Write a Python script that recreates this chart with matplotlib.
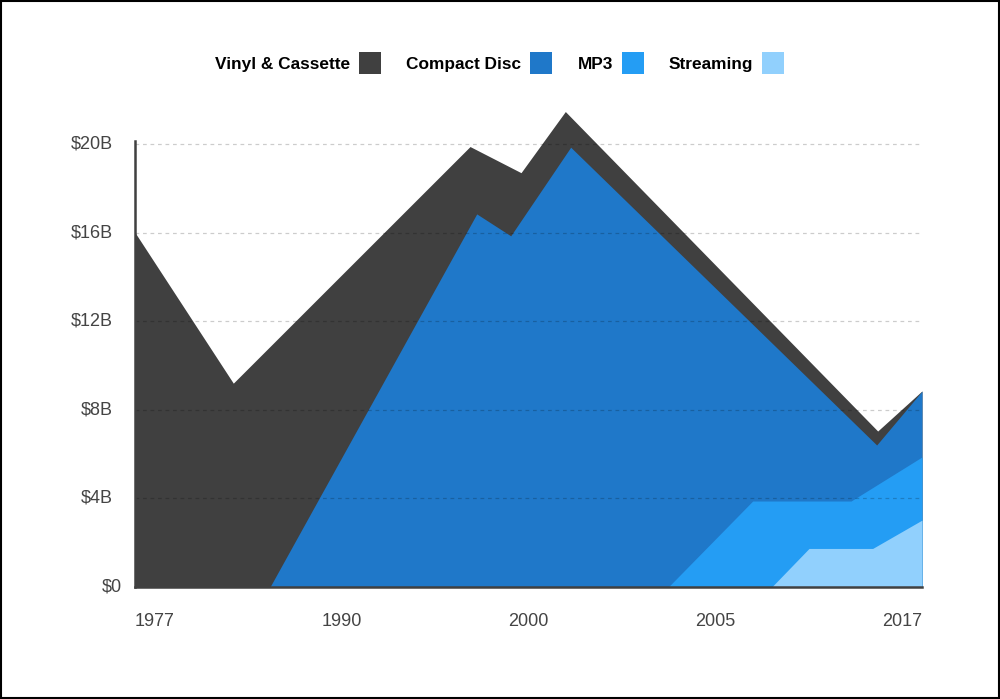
import matplotlib
matplotlib.use("Agg")
import matplotlib.pyplot as plt
from matplotlib.patches import Rectangle
import matplotlib.transforms as mtransforms

# ---------------- data ----------------
series_names = ["Vinyl & Cassette", "Compact Disc", "MP3", "Streaming"]
series_colors = ["#404040", "#1f78c9", "#249df4", "#91d0fd"]

# x positions on a 0-100 timeline scale, values in $B
vinyl_x = [0, 12.49, 42.57, 49.05, 54.68, 94.37, 100]
vinyl_y = [16.0, 9.2, 19.88, 18.70, 21.46, 7.04, 8.85]
cd_x = [17.15, 43.42, 47.74, 55.36, 94.24, 100]
cd_y = [0, 16.84, 15.85, 19.85, 6.41, 8.84]
mp3_x = [67.76, 78.48, 90.98, 100]
mp3_y = [0, 3.88, 3.88, 5.87]
stream_x = [80.90, 85.64, 93.73, 100]
stream_y = [0, 1.74, 1.74, 3.02]

x_tick_pos = [2.54, 26.27, 50.0, 73.73, 97.46]
x_tick_labels = ["1977", "1990", "2000", "2005", "2017"]
y_ticks = [0, 4, 8, 12, 16, 20]
y_tick_labels = ["$0", "$4B", "$8B", "$12B", "$16B", "$20B"]

# ---------------- figure ----------------
plt.rcParams["font.family"] = ["Liberation Sans", "DejaVu Sans"]
fig = plt.figure(figsize=(10, 6.99), dpi=100)
fig.patch.set_facecolor("white")

W, H = 1000, 699
ax_left, ax_right, ax_top, ax_bottom = 135, 922, 141, 587
ax = fig.add_axes([ax_left / W, 1 - ax_bottom / H, (ax_right - ax_left) / W, (ax_bottom - ax_top) / H])
ax.set_xlim(0, 100)
ax.set_ylim(0, 20.13)

all_series = [(vinyl_x, vinyl_y), (cd_x, cd_y), (mp3_x, mp3_y), (stream_x, stream_y)]
for i, ((xs, ys), col) in enumerate(zip(all_series, series_colors)):
    ax.fill_between(xs, 0, ys, color=col, linewidth=0, zorder=1 + i, clip_on=False)

# gridlines drawn over the areas
for v in y_ticks[1:]:
    ax.axhline(v, color="black", alpha=0.2, linewidth=0.9, linestyle=(0, (3, 3)), zorder=10)

for s in ["top", "right"]:
    ax.spines[s].set_visible(False)
ax.spines["left"].set_color("#404040")
ax.spines["left"].set_linewidth(1.8)
ax.spines["bottom"].set_color("#404040")
ax.spines["bottom"].set_linewidth(1.8)
ax.spines["left"].set_zorder(11)
ax.spines["bottom"].set_zorder(11)

ax.set_yticks([])
ax.set_xticks(x_tick_pos)
ax.set_xticklabels(x_tick_labels, fontsize=13, color="#444444")
ax.tick_params(axis="x", length=0, pad=19)

trans = mtransforms.blended_transform_factory(fig.transFigure, ax.transData)
for v, lab in zip(y_ticks, y_tick_labels):
    xr = 113 if v != 0 else 122
    ax.text(xr / W, v, lab, transform=trans, ha="right", va="center",
            fontsize=13, color="#444444")

# legend (text followed by colour square)
legend_sq_x = [359, 530, 622, 762]
sq = 22
leg_y = 63
for name, col, sx in zip(series_names, series_colors, legend_sq_x):
    fig.text((sx - 9) / W, 1 - (leg_y + 1.5) / H, name, ha="right", va="center",
             fontsize=12.4, fontweight="bold", color="black")
    fig.patches.append(Rectangle((sx / W, 1 - (leg_y + sq / 2) / H), sq / W, sq / H,
                                 transform=fig.transFigure, facecolor=col, edgecolor="none"))

# outer frame
fig.patches.append(Rectangle((0.001, 0.0015), 0.998, 0.997, transform=fig.transFigure,
                             facecolor="none", edgecolor="black", linewidth=1.5))

fig.savefig("out.png", dpi=100)
